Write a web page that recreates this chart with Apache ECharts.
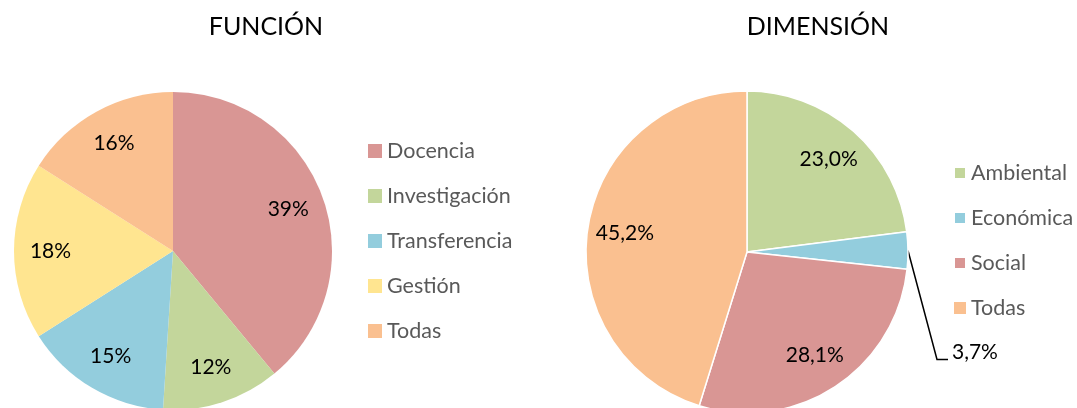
<!DOCTYPE html>
<html>
<head>
<meta charset="utf-8">
<script src="https://cdn.jsdelivr.net/npm/echarts@6/dist/echarts.min.js"></script>
<style>
  html, body { margin: 0; padding: 0; background: #fff; }
  #chart { width: 1077px; height: 408px; }
</style>
</head>
<body>
<div id="chart"></div>
<script>
// FUNCIÓN
var funcNames = ['Docencia', 'Investigación', 'Transferencia', 'Gestión', 'Todas'];
var funcValues = [39, 12, 15, 18, 16];
var funcColors = ['#D99694', '#C3D69B', '#93CDDD', '#FFE590', '#FAC090'];

// DIMENSIÓN
var dimNames = ['Ambiental', 'Económica', 'Social', 'Todas'];
var dimValues = [23.0, 3.7, 28.1, 45.2];
var dimColors = ['#C3D69B', '#93CDDD', '#D99694', '#FAC090'];

var FONT = 'Lato';

function buildData(names, values, colors) {
    var arr = [];
    for (var i = 0; i < names.length; i++) {
        arr.push({ name: names[i], value: values[i], itemStyle: { color: colors[i] } });
    }
    return arr;
}

function pctInt(p) { return p.value + '%'; }
function pctDec(p) { return p.value.toFixed(1).replace('.', ',') + '%'; }

var myChart = echarts.init(document.getElementById('chart'));
var option = {
    animation: false,
    backgroundColor: '#fff',
    textStyle: { fontFamily: FONT },
    title: [
        { text: 'FUNCIÓN', left: 261, top: 22, textAlign: 'center', textVerticalAlign: 'middle',
          textStyle: { fontFamily: FONT, fontSize: 25, fontWeight: 'normal', color: '#000' } },
        { text: 'DIMENSIÓN', left: 813, top: 22, textAlign: 'center', textVerticalAlign: 'middle',
          textStyle: { fontFamily: FONT, fontSize: 25, fontWeight: 'normal', color: '#000' } }
    ],
    legend: [
        {
            data: funcNames, orient: 'vertical', left: 368, top: 140, padding: 0,
            itemWidth: 14, itemHeight: 14, itemGap: 23, icon: 'rect',
            textStyle: { fontFamily: FONT, fontSize: 21.5, color: '#595959', lineHeight: 22 }
        },
        {
            data: dimNames, orient: 'vertical', left: 953, top: 162, padding: 0,
            itemWidth: 12, itemHeight: 12, itemGap: 23, icon: 'rect',
            textStyle: { fontFamily: FONT, fontSize: 21.5, color: '#595959', lineHeight: 22 }
        }
    ],
    series: [
        {
            type: 'pie', name: 'FUNCIÓN', center: [173, 251], radius: [0, 159],
            startAngle: 90, clockwise: true, silent: true,
            itemStyle: { borderWidth: 0 },
            label: { show: false }, labelLine: { show: false },
            data: buildData(funcNames, funcValues, funcColors)
        },
        {
            type: 'pie', name: 'DIMENSIÓN', center: [747, 252], radius: [0, 161],
            startAngle: 90, clockwise: true, silent: true,
            itemStyle: { borderColor: '#fff', borderWidth: 1.5 },
            label: { show: false, position: 'outside', formatter: pctDec,
                     color: '#000', fontFamily: FONT, fontSize: 21 },
            labelLine: { show: false, length: 10, length2: 10, smooth: false,
                         lineStyle: { color: '#000', width: 1.5 } },
            data: buildData(dimNames, dimValues, dimColors).map(function (d, i) {
                // only the small slice gets an outside label with a leader line
                if (i === 1) {
                    d.label = { show: true };
                    d.labelLine = { show: true };
                }
                return d;
            }),
            labelLayout: function (p) {
                if (p.dataIndex === 1 && p.labelLinePoints) {
                    var p0 = p.labelLinePoints[0];
                    return {
                        x: p0[0] + 44,
                        y: p0[1] + 102,
                        align: 'left', verticalAlign: 'middle',
                        labelLinePoints: [
                            [p0[0], p0[1]],
                            [p0[0] + 29, p0[1] + 109],
                            [p0[0] + 40, p0[1] + 109]
                        ]
                    };
                }
            }
        },
        // label rings: inside labels sit at 3/4 of the radius
        {
            type: 'pie', center: [173, 251], radius: [80, 159],
            startAngle: 90, clockwise: true, silent: true,
            itemStyle: { color: 'transparent' },
            label: { show: true, position: 'inside', formatter: pctInt,
                     color: '#000', fontFamily: FONT, fontSize: 21 },
            labelLine: { show: false },
            data: buildData(funcNames, funcValues, funcColors).map(function (d) {
                d.itemStyle = { color: 'transparent' };
                return d;
            })
        },
        {
            type: 'pie', center: [747, 252], radius: [80, 161],
            startAngle: 90, clockwise: true, silent: true,
            itemStyle: { color: 'transparent' },
            label: { show: true, position: 'inside', formatter: pctDec,
                     color: '#000', fontFamily: FONT, fontSize: 21 },
            labelLine: { show: false },
            data: buildData(dimNames, dimValues, dimColors).map(function (d, i) {
                d.itemStyle = { color: 'transparent' };
                if (i === 1) d.label = { show: false };
                return d;
            })
        }
    ]
};
myChart.setOption(option);
</script>
</body>
</html>
